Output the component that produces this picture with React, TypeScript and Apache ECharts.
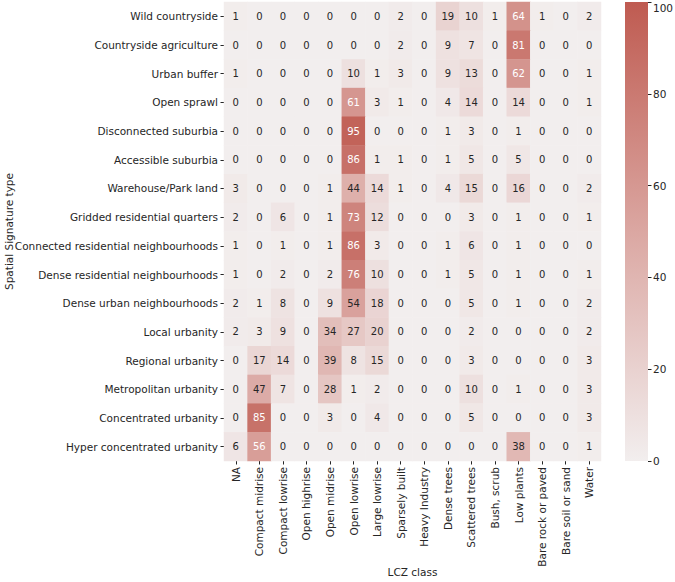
import React, { useEffect, useRef } from "react";
import * as echarts from "echarts";

const lczClasses = [
  "NA", "Compact midrise", "Compact lowrise", "Open highrise", "Open midrise",
  "Open lowrise", "Large lowrise", "Sparsely built", "Heavy Industry", "Dense trees",
  "Scattered trees", "Bush, scrub", "Low plants", "Bare rock or paved", "Bare soil or sand", "Water",
];

const signatureTypes = [
  "Wild countryside", "Countryside agriculture", "Urban buffer", "Open sprawl",
  "Disconnected suburbia", "Accessible suburbia", "Warehouse/Park land",
  "Gridded residential quarters", "Connected residential neighbourhoods",
  "Dense residential neighbourhoods", "Dense urban neighbourhoods", "Local urbanity",
  "Regional urbanity", "Metropolitan urbanity", "Concentrated urbanity",
  "Hyper concentrated urbanity",
];

const wildCountryside = [1, 0, 0, 0, 0, 0, 0, 2, 0, 19, 10, 1, 64, 1, 0, 2];
const countrysideAgriculture = [0, 0, 0, 0, 0, 0, 0, 2, 0, 9, 7, 0, 81, 0, 0, 0];
const urbanBuffer = [1, 0, 0, 0, 0, 10, 1, 3, 0, 9, 13, 0, 62, 0, 0, 1];
const openSprawl = [0, 0, 0, 0, 0, 61, 3, 1, 0, 4, 14, 0, 14, 0, 0, 1];
const disconnectedSuburbia = [0, 0, 0, 0, 0, 95, 0, 0, 0, 1, 3, 0, 1, 0, 0, 0];
const accessibleSuburbia = [0, 0, 0, 0, 0, 86, 1, 1, 0, 1, 5, 0, 5, 0, 0, 0];
const warehouseParkLand = [3, 0, 0, 0, 1, 44, 14, 1, 0, 4, 15, 0, 16, 0, 0, 2];
const griddedResidential = [2, 0, 6, 0, 1, 73, 12, 0, 0, 0, 3, 0, 1, 0, 0, 1];
const connectedResidential = [1, 0, 1, 0, 1, 86, 3, 0, 0, 1, 6, 0, 1, 0, 0, 0];
const denseResidential = [1, 0, 2, 0, 2, 76, 10, 0, 0, 1, 5, 0, 1, 0, 0, 1];
const denseUrban = [2, 1, 8, 0, 9, 54, 18, 0, 0, 0, 5, 0, 1, 0, 0, 2];
const localUrbanity = [2, 3, 9, 0, 34, 27, 20, 0, 0, 0, 2, 0, 0, 0, 0, 2];
const regionalUrbanity = [0, 17, 14, 0, 39, 8, 15, 0, 0, 0, 3, 0, 0, 0, 0, 3];
const metropolitanUrbanity = [0, 47, 7, 0, 28, 1, 2, 0, 0, 0, 10, 0, 1, 0, 0, 3];
const concentratedUrbanity = [0, 85, 0, 0, 3, 0, 4, 0, 0, 0, 5, 0, 0, 0, 0, 3];
const hyperConcentrated = [6, 56, 0, 0, 0, 0, 0, 0, 0, 0, 0, 0, 38, 0, 0, 1];

const rows = [
  wildCountryside, countrysideAgriculture, urbanBuffer, openSprawl,
  disconnectedSuburbia, accessibleSuburbia, warehouseParkLand, griddedResidential,
  connectedResidential, denseResidential, denseUrban, localUrbanity,
  regionalUrbanity, metropolitanUrbanity, concentratedUrbanity, hyperConcentrated,
];

const colorbarTicks = [0, 20, 40, 60, 80, 100];

const LOW = "#f2eeee";
const MID = "#dba7a2";
const HIGH = "#bf5b51";
const FONT = "DejaVu Sans";
const TEXT = "#262626";
const FS = 10.5;
const CELL_FS = 10;

export default function App() {
  const ref = useRef<HTMLDivElement>(null);
  useEffect(() => {
    if (!ref.current) return;
    const chart = echarts.init(ref.current, null, { renderer: "svg" });
    const data: any[] = [];
    rows.forEach((r, yi) =>
      r.forEach((v, xi) =>
        data.push({
          value: [xi, yi, v],
          label: { color: v > 55 ? "#ffffff" : TEXT },
        })
      )
    );
    chart.setOption({
      animation: false,
      backgroundColor: "#ffffff",
      textStyle: { fontFamily: FONT },
      grid: [
        { left: 224, right: 74, top: 2, bottom: 121, containLabel: false, outerBoundsMode: "none" },
        { left: 625, width: 23, top: 2, bottom: 121, containLabel: false, outerBoundsMode: "none" },
      ],
      xAxis: [
        {
          type: "category",
          gridIndex: 0,
          data: lczClasses,
          name: "LCZ class",
          nameLocation: "middle",
          nameGap: 105,
          nameMoveOverlap: false,
          nameTextStyle: { fontSize: FS, color: TEXT, fontFamily: FONT },
          axisLine: { show: false },
          axisTick: { show: true, alignWithLabel: true, length: 3.5, lineStyle: { color: TEXT } },
          axisLabel: { rotate: 90, fontSize: FS, color: TEXT, margin: 6, fontFamily: FONT },
          splitLine: { show: false },
        },
        {
          type: "category",
          gridIndex: 1,
          data: ["cb"],
          show: false,
        },
      ],
      yAxis: [
        {
          type: "category",
          gridIndex: 0,
          data: signatureTypes,
          inverse: true,
          name: "Spatial Signature type",
          nameLocation: "middle",
          nameGap: 210,
          nameMoveOverlap: false,
          nameRotate: 90,
          nameTextStyle: { fontSize: FS, color: TEXT, fontFamily: FONT },
          axisLine: { show: false },
          axisTick: { show: true, alignWithLabel: true, length: 3.5, lineStyle: { color: TEXT } },
          axisLabel: { fontSize: FS, color: TEXT, margin: 6, fontFamily: FONT },
          splitLine: { show: false },
        },
        {
          type: "value",
          gridIndex: 1,
          position: "right",
          min: 0,
          max: 100,
          interval: 20,
          axisLine: { show: false },
          axisTick: { show: true, length: 3.5, lineStyle: { color: TEXT } },
          axisLabel: {
            fontSize: FS, color: TEXT, margin: 5, fontFamily: FONT,
            verticalAlignMaxLabel: "top",
          },
          splitLine: { show: false },
          data: colorbarTicks,
        },
      ],
      visualMap: {
        show: false,
        type: "continuous",
        seriesIndex: 0,
        min: 0,
        max: 100,
        dimension: 2,
        inRange: { color: [LOW, MID, HIGH] },
      },
      series: [
        {
          type: "heatmap",
          xAxisIndex: 0,
          yAxisIndex: 0,
          data,
          label: { show: true, fontSize: CELL_FS, fontFamily: FONT },
          itemStyle: { borderWidth: 0 },
          emphasis: { disabled: true },
        },
        {
          type: "bar",
          xAxisIndex: 1,
          yAxisIndex: 1,
          data: [100],
          barWidth: "100%",
          itemStyle: {
            color: new echarts.graphic.LinearGradient(0, 0, 0, 1, [
              { offset: 0, color: HIGH },
              { offset: 0.5, color: MID },
              { offset: 1, color: LOW },
            ]),
          },
          silent: true,
        },
      ],
    });
    return () => chart.dispose();
  }, []);
  return <div ref={ref} style={{ width: 675, height: 582, position: "absolute", left: 0, top: 0 }} />;
}
